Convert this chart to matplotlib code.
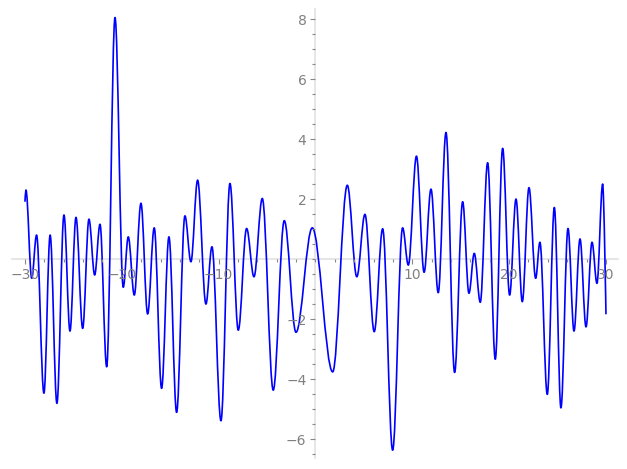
import matplotlib
matplotlib.use("Agg")
import matplotlib.pyplot as plt
from matplotlib.path import Path
from matplotlib.patches import PathPatch
from matplotlib.ticker import MultipleLocator, FixedLocator

# turning points of the curve (first and last are the ends)
xs = [-30.0, -29.9, -29.3, -28.8, -28.04, -27.4, -26.7, -25.97, -25.35, -24.73,
      -24.04, -23.39, -22.8, -22.25, -21.56, -20.7, -19.85, -19.33, -18.71, -18.02,
      -17.33, -16.65, -15.89, -15.13, -14.34, -13.48, -12.86, -12.17, -11.31, -10.69,
      -9.76, -8.83, -7.97, -7.11, -6.35, -5.49, -4.36, -3.22, -2.01, -0.33,
      1.78, 3.29, 4.27, 5.11, 6.07, 6.94, 7.97, 9.0, 9.59, 10.43,
      11.22, 11.93, 12.68, 13.48, 14.37, 15.2, 15.85, 16.4, 17.02, 17.78,
      18.57, 19.33, 20.05, 20.71, 21.36, 22.05, 22.74, 23.18, 23.94, 24.67,
      25.35, 26.08, 26.7, 27.32, 27.94, 28.56, 29.07, 29.66, 30.0]
ys = [1.91, 2.30, -0.64, 0.80, -4.47, 0.80, -4.81, 1.47, -2.40, 1.39,
      -2.31, 1.33, -0.53, 1.16, -3.59, 8.05, -0.94, 0.74, -1.20, 1.86,
      -1.83, 1.04, -4.31, 0.74, -5.11, 1.44, -0.09, 2.63, -1.50, 0.41,
      -5.39, 2.52, -2.37, 1.02, -0.59, 2.02, -4.37, 1.28, -2.44, 1.04,
      -3.76, 2.46, -0.59, 1.49, -2.42, 1.01, -6.37, 1.04, -0.20, 3.43,
      -0.44, 2.33, -1.12, 4.22, -3.78, 1.91, -1.14, 0.19, -1.44, 3.21,
      -3.34, 3.69, -1.20, 2.00, -1.42, 2.38, -0.64, 0.56, -4.51, 1.72,
      -4.96, 1.02, -2.40, 0.67, -2.26, 0.56, -0.81, 2.50, -1.84]

xticks = [-30, -20, -10, 10, 20, 30]
yticks = [-6, -4, -2, 2, 4, 6, 8]

fig = plt.figure(figsize=(6.27, 4.69), dpi=100)
ax = fig.add_axes([0.0191, 0.0235, 0.9665, 0.957])

# smooth curve: cubic pieces with flat tangents at the turning points
k = 0.36
verts = [(xs[0], ys[0])]
codes = [Path.MOVETO]
n = len(xs)
for i in range(n - 1):
    dx = xs[i + 1] - xs[i]
    c1 = (xs[i], ys[i]) if i == 0 else (xs[i] + k * dx, ys[i])
    c2 = (xs[i + 1], ys[i + 1]) if i == n - 2 else (xs[i + 1] - k * dx, ys[i + 1])
    verts += [c1, c2, (xs[i + 1], ys[i + 1])]
    codes += [Path.CURVE4] * 3
ax.add_patch(PathPatch(Path(verts, codes), fill=False, edgecolor="blue", lw=1.2,
                       capstyle="butt", joinstyle="round"))

ax.set_xlim(-31.34, 31.24)
ax.set_ylim(-6.63, 8.33)

for s in ["top", "right"]:
    ax.spines[s].set_visible(False)
ax.spines["left"].set_position(("data", 0))
ax.spines["bottom"].set_position(("data", 0))
for s in ["left", "bottom"]:
    ax.spines[s].set_color("#e4e4e4")
    ax.spines[s].set_linewidth(1.3)
    ax.spines[s].set_zorder(0)

ax.xaxis.set_major_locator(FixedLocator(xticks))
ax.yaxis.set_major_locator(FixedLocator(yticks))
ax.xaxis.set_minor_locator(MultipleLocator(2))
ax.yaxis.set_minor_locator(MultipleLocator(0.5))
ax.tick_params(which="major", length=3.5, width=0.8, color="#888888",
               labelcolor="#808080", labelsize=10)
ax.tick_params(which="minor", length=2, width=0.8, color="#888888")
ax.tick_params(axis="x", pad=3)
ax.tick_params(axis="y", pad=3)

fig.savefig("out.png", dpi=100)
